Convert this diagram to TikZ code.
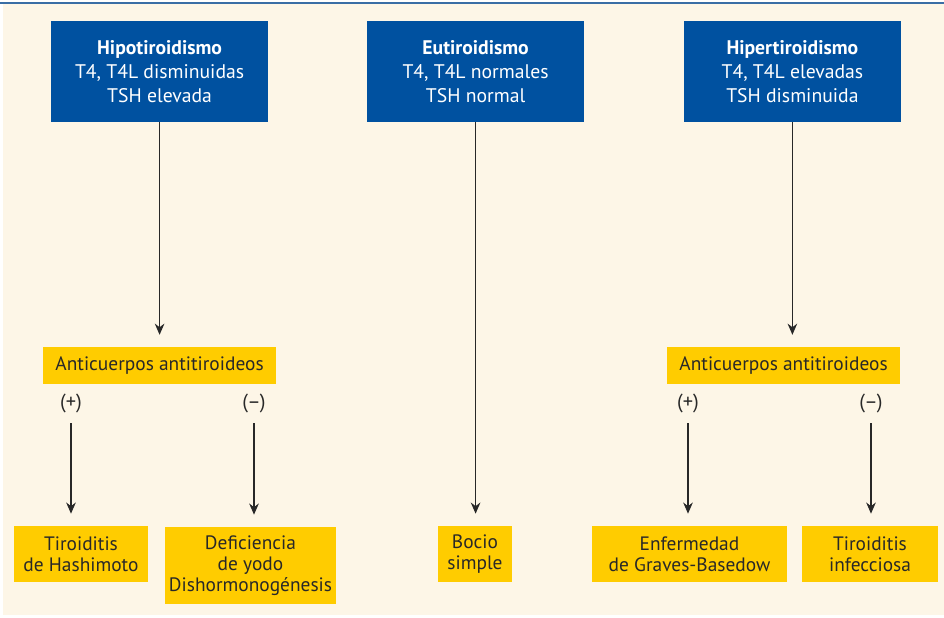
\documentclass[tikz,border=0pt]{standalone}
\usepackage{fontspec}
\setmainfont{PT Sans}
\usetikzlibrary{arrows.meta, positioning}

\definecolor{tiroblue}{RGB}{0,81,160}
\definecolor{tiroyellow}{RGB}{255,204,0}
\definecolor{tirocream}{RGB}{253,246,231}
\definecolor{tirotext}{RGB}{40,40,40}
\definecolor{tiroline}{RGB}{58,110,165}

\begin{document}
\begin{tikzpicture}[
  estado/.style={fill=tiroblue, text=white, align=center, minimum width=5.425cm, minimum height=2.525cm, font=\fontsize{14}{17}\selectfont},
  causa/.style={fill=tiroyellow, text=tirotext, align=center, minimum height=1.4cm, inner sep=2pt, font=\fontsize{13.8}{15}\selectfont},
  signo/.style={text=tirotext, font=\fontsize{14.5}{15}\selectfont},
  flecha/.style={-{Stealth[length=2.8mm,width=2.4mm]}, line width=0.9pt, draw=tirotext, shorten >=0.3cm}
]

% Background and top rule
\useasboundingbox (0,0) rectangle (23.6,-15.45);
\fill[tirocream] (0.075,-0.1) rectangle (23.6,-15.375);
\draw[tiroline, line width=0.8pt] (0,-0.075) -- (23.6,-0.075);

% Thyroid states
\node[estado] (hipo) at (3.99,-1.79) {\textbf{Hipotiroidismo}\\T4, T4L disminuidas\\TSH elevada};
\node[estado] (eu) at (11.89,-1.79) {\textbf{Eutiroidismo}\\T4, T4L normales\\TSH normal};
\node[estado] (hiper) at (19.81,-1.79) {\textbf{Hipertiroidismo}\\T4, T4L elevadas\\TSH disminuida};

% Antibodies
\node[causa, minimum width=5.825cm, minimum height=0.925cm] (anti-hipo) at (3.99,-9.14) {Anticuerpos antitiroideos};
\node[causa, minimum width=5.825cm, minimum height=0.925cm] (anti-hiper) at (19.59,-9.14) {Anticuerpos antitiroideos};

% Signs
\node[signo] (pos-hipo) at (1.775,-10.075) {(+)};
\node[signo] (neg-hipo) at (6.35,-10.075) {(–)};
\node[signo] (pos-hiper) at (17.2,-10.075) {(+)};
\node[signo] (neg-hiper) at (21.775,-10.075) {(–)};

% Causes
\node[causa, minimum width=3.35cm] (hashimoto) at (2.025,-13.85) {Tiroiditis\\de Hashimoto};
\node[causa, minimum width=4.275cm, minimum height=1.925cm] (yodo) at (6.2625,-14.1375) {Deficiencia\\de yodo\\Dishormonogénesis};
\node[causa, minimum width=1.85cm] (bocio) at (11.875,-13.85) {Bocio\\simple};
\node[causa, minimum width=4.875cm] (graves) at (17.2375,-13.85) {Enfermedad\\de Graves-Basedow};
\node[causa, minimum width=3.4cm] (infecciosa) at (21.75,-13.85) {Tiroiditis\\infecciosa};

% Arrows
\draw[flecha] (hipo.south) -- (hipo.south |- anti-hipo.north);
\draw[flecha] (eu.south) -- (eu.south |- bocio.north);
\draw[flecha] (hiper.south) -- (hiper.south |- anti-hiper.north);
\draw[flecha, shorten <=0.15cm] (pos-hipo.south) -- (pos-hipo.south |- hashimoto.north);
\draw[flecha, shorten <=0.15cm] (neg-hipo.south) -- (neg-hipo.south |- yodo.north);
\draw[flecha, shorten <=0.15cm] (pos-hiper.south) -- (pos-hiper.south |- graves.north);
\draw[flecha, shorten <=0.15cm] (neg-hiper.south) -- (neg-hiper.south |- infecciosa.north);

\end{tikzpicture}
\end{document}
